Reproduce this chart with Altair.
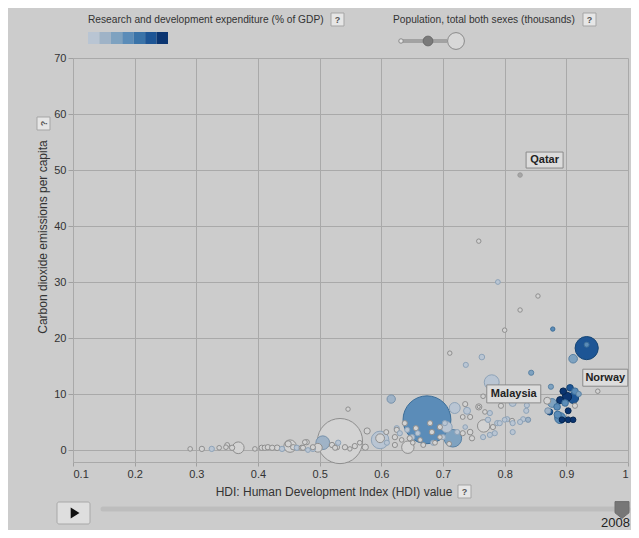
import altair as alt
import pandas as pd

FONT = "Arial"

# ---- data (HDI, CO2 per capita, population in thousands, R&D bin) ----
# rd bin: 0 = no data, 1..7 = legend colour steps, 8 = highlighted country without data
hdi = [0.825, 0.758, 0.951,
       0.758, 0.789, 0.854, 0.825, 0.800, 0.878, 0.933, 0.933, 0.911, 0.711, 0.737, 0.763,
       0.843, 0.779, 0.875, 0.616, 0.546,
       0.895, 0.906, 0.914, 0.920, 0.911, 0.901, 0.890, 0.898, 0.869, 0.877, 0.914, 0.885,
       0.873, 0.903, 0.886, 0.890, 0.893, 0.903, 0.911,
       0.813, 0.794, 0.836, 0.835, 0.830, 0.870, 0.719, 0.736, 0.739, 0.768, 0.776, 0.766,
       0.804, 0.812, 0.813, 0.788, 0.784, 0.776, 0.744, 0.736, 0.732, 0.716, 0.706, 0.695,
       0.684, 0.663, 0.651, 0.642, 0.625, 0.622, 0.609, 0.679, 0.682, 0.674, 0.533, 0.598,
       0.598, 0.505, 0.577, 0.574, 0.549, 0.625, 0.630, 0.638, 0.643, 0.622, 0.650, 0.656,
       0.633,
       0.290, 0.309, 0.325, 0.337, 0.348, 0.350, 0.358, 0.368, 0.395, 0.406, 0.411, 0.416,
       0.423, 0.431, 0.439, 0.452, 0.449, 0.457, 0.463, 0.471, 0.479, 0.489, 0.497, 0.520,
       0.528, 0.530, 0.541, 0.557, 0.565,
       0.765, 0.732, 0.773, 0.792, 0.781, 0.800, 0.813, 0.825, 0.838, 0.747, 0.723, 0.700,
       0.687, 0.695, 0.703, 0.744, 0.765, 0.710,
       0.476, 0.473, 0.481, 0.489, 0.525, 0.646, 0.659, 0.668, 0.608]
co2 = [49.1, 7.7, 10.5,
       37.3, 30.0, 27.5, 25.0, 21.4, 21.6, 18.2, 18.8, 16.3, 17.3, 15.2, 16.6,
       13.8, 12.1, 11.3, 9.1, 7.3,
       10.5, 11.1, 10.5, 10.0, 9.3, 9.5, 8.9, 8.4, 8.8, 8.4, 7.9, 7.7,
       6.8, 7.0, 6.3, 5.7, 5.4, 5.4, 5.4,
       8.4, 7.9, 8.0, 7.0, 5.5, 7.0, 7.5, 8.2, 7.0, 6.8, 6.6, 4.3,
       5.5, 5.2, 3.2, 4.8, 3.0, 2.7, 5.9, 4.1, 3.0, 2.1, 4.1, 2.3,
       1.3, 1.8, 1.3, 3.6, 3.9, 2.3, 1.3, 4.8, 3.2, 5.4, 1.6, 1.8,
       2.1, 1.3, 3.4, 0.5, 0.2, 3.6, 3.0, 4.8, 0.5, 0.9, 2.3, 3.9,
       1.8,
       0.2, 0.2, 0.2, 0.4, 0.5, 0.9, 0.4, 0.4, 0.2, 0.4, 0.4, 0.5,
       0.4, 0.4, 0.2, 0.7, 1.1, 0.5, 0.4, 0.4, 1.4, 0.2, 0.4, 0.9,
       0.5, 1.3, 0.5, 0.7, 1.3,
       9.6, 5.9, 5.4, 4.8, 4.1, 5.4, 4.8, 5.0, 5.4, 2.1, 3.2, 2.3,
       1.3, 4.1, 4.8, 3.2, 2.3, 1.1,
       1.4, 0.4, 0.0, 0.5, 0.4, 2.1, 3.0, 0.9, 3.2]
pop = [1300, 12000, 1500,
       1000, 3000, 800, 1000, 1500, 500, 304000, 4000, 33000, 1000, 5000, 8000,
       5000, 120000, 5000, 30000, 1000,
       15000, 15000, 15000, 6000, 60000, 40000, 20000, 15000, 18000, 35000, 5000, 15000,
       12000, 10000, 20000, 60000, 9000, 9000, 8000,
       18000, 5000, 5000, 5000, 5000, 12000, 60000, 5000, 18000, 2000, 5000, 80000,
       5000, 5000, 5000, 6000, 5000, 5000, 5000, 2000, 5000, 170000, 60000, 2000,
       5000, 2000, 2000, 5000, 5000, 6000, 5000, 5000, 6000, 1330000, 1180000, 170000,
       35000, 100000, 12000, 12000, 1000, 5000, 5000, 5000, 80000, 5000, 6000, 5000,
       2000,
       2000, 6000, 6000, 2000, 2000, 3000, 6000, 70000, 2000, 6000, 6000, 6000,
       6000, 8000, 6000, 80000, 12000, 6000, 6000, 6000, 6000, 6000, 35000, 6000,
       6000, 6000, 6000, 6000, 2000,
       2000, 3000, 6000, 5000, 5000, 3000, 5000, 5000, 5000, 6000, 5000, 5000,
       3000, 5000, 5000, 8000, 5000, 3000,
       3000, 5000, 3000, 5000, 5000, 5000, 5000, 4000, 4000]
rd = [8, 0, 0,
      0, 1, 0, 0, 0, 4, 6, 4, 3, 0, 1, 1,
      3, 1, 3, 2, 0,
      7, 6, 4, 3, 6, 7, 7, 4, 0, 3, 0, 4,
      6, 7, 4, 4, 7, 7, 7,
      1, 0, 1, 1, 1, 2, 1, 0, 1, 0, 1, 0,
      1, 0, 1, 1, 1, 1, 0, 1, 0, 3, 1, 0,
      1, 0, 0, 1, 1, 0, 1, 0, 0, 4, 0, 1,
      0, 2, 0, 0, 0, 0, 1, 0, 0, 0, 1, 0,
      0,
      0, 0, 1, 0, 0, 0, 0, 0, 0, 0, 0, 0,
      0, 0, 1, 0, 0, 0, 1, 0, 0, 1, 0, 0,
      0, 1, 0, 0, 0,
      0, 0, 1, 1, 0, 1, 1, 1, 2, 0, 1, 1,
      0, 0, 1, 0, 1, 0,
      0, 0, 1, 0, 0, 0, 1, 0, 0]

# labelled countries: name -> index into the arrays above
labels = {"Qatar": 0, "Malaysia": 1, "Norway": 2}

legend_colors = ["#b9c5d3", "#9fb3c7", "#7ea2c0", "#5b8cb8", "#3a73a8", "#1d5595", "#0b3571"]
FILL = ["#d3d3d3"] + legend_colors + ["#a6a6a6"]
STROKE = ["#8e8e8e", "#8ea3b8", "#7892ab", "#5a82a4", "#3d6e98", "#285a89", "#154575", "#062752", "#9a9a9a"]

x_ticks = [0.1, 0.2, 0.3, 0.4, 0.5, 0.6, 0.7, 0.8, 0.9, 1.0]
y_ticks = [0, 10, 20, 30, 40, 50, 60, 70]

df = pd.DataFrame({"hdi": hdi, "co2": co2, "pop": pop, "rd": rd})

x_scale = alt.Scale(domain=[0.1, 1.0], nice=False, zero=False)
y_scale = alt.Scale(domain=[-2.14, 70], nice=False, zero=False)
x_axis = alt.Axis(values=x_ticks, format=".1~f", title=None, tickSize=4, labelPadding=2)
y_axis = alt.Axis(values=y_ticks, title=None, tickSize=5, labelPadding=2)


def xy():
    return dict(x=alt.X("hdi:Q", scale=x_scale, axis=x_axis),
                y=alt.Y("co2:Q", scale=y_scale, axis=y_axis))


bubbles = alt.Chart(df).mark_circle(opacity=1, strokeWidth=1).encode(
    **xy(),
    size=alt.Size("pop:Q", scale=alt.Scale(domain=[0, 1330000], range=[18, 2290]), legend=None),
    fill=alt.Fill("rd:O", scale=alt.Scale(domain=list(range(9)), range=FILL), legend=None),
    stroke=alt.Stroke("rd:O", scale=alt.Scale(domain=list(range(9)), range=STROKE), legend=None),
    order=alt.Order("pop:Q", sort="descending"),
)

one = pd.DataFrame({"a": [0]})


def txt(s, x, y, size=11, align="left", weight="normal", angle=0, color="#333333"):
    kw = dict(text=s, align=align, baseline="middle", fontSize=size, fontWeight=weight,
              color=color, font=FONT)
    if angle:
        kw["angle"] = angle
    return alt.Chart(one).mark_text(**kw).encode(x=alt.value(x), y=alt.value(y))


def box(x1, y1, x2, y2, fill, stroke, radius=0):
    return alt.Chart(one).mark_rect(fill=fill, stroke=stroke, strokeWidth=1,
                                    cornerRadius=radius).encode(
        x=alt.value(x1), x2=alt.value(x2), y=alt.value(y1), y2=alt.value(y2))


def qbox(x1, y1, angle=0):
    layers = [box(x1, y1, x1 + 13, y1 + 13, "#e6e6e6", "#a5a5a5")]
    layers.append(txt("?", x1 + 6.5, y1 + 6.5, size=9, align="center", weight="bold",
                      color="#555555", angle=angle))
    return layers


def dot(x, y, size, fill, stroke, shape="circle", sw=1):
    return alt.Chart(one).mark_point(shape=shape, size=size, filled=True, fill=fill,
                                     stroke=stroke, strokeWidth=sw, opacity=1).encode(
        x=alt.value(x), y=alt.value(y))


deco = []
# colour legend
deco.append(txt("Research and development expenditure (% of GDP)", 15, -38, size=10.2))
deco += qbox(258, -45)
sw = 80 / 7
for i, c in enumerate(legend_colors):
    deco.append(alt.Chart(one).mark_rect(fill=c).encode(
        x=alt.value(15 + i * sw), x2=alt.value(15 + (i + 1) * sw),
        y=alt.value(-26), y2=alt.value(-14)))
# size legend
deco.append(txt("Population, total both sexes (thousands)", 320, -38, size=10.2))
deco += qbox(510, -45)
deco.append(alt.Chart(one).mark_rule(strokeWidth=4, color="#a2a2a2").encode(
    x=alt.value(328), x2=alt.value(374), y=alt.value(-17)))
deco.append(dot(328, -17, 20, "#e4e4e4", "#8a8a8a"))
deco.append(dot(355, -17, 95, "#7a7a7a", "#6a6a6a"))
deco.append(dot(383, -17, 283, "#d8d8d8", "#8a8a8a"))
# axis titles
deco.append(txt("Carbon dioxide emissions per capita", -30, 179, size=12, align="center",
                angle=270))
deco += qbox(-36, 59, angle=270)
deco.append(txt("HDI: Human Development Index (HDI) value", 261, 434, size=12,
                align="center"))
deco += qbox(385, 427)
# play button and time slider
deco.append(box(-16, 444, 17, 466, "#dedede", "#a8a8a8", radius=2))
deco.append(dot(1, 455, 121, "#111111", "#111111", shape="M-0.6,-1L1,0L-0.6,1Z", sw=0))
deco.append(alt.Chart(one).mark_rule(strokeWidth=5, color="#bdbdbd", strokeCap="round").encode(
    x=alt.value(30), x2=alt.value(555), y=alt.value(451)))
deco.append(dot(549, 452, 196, "#777777", "#6f6f6f", shape="M-1,-1.2H1V0.4L0,1.2L-1,0.4Z"))
deco.append(txt("2008", 557, 465, size=13, align="right", color="#222222"))

# country labels, anchored to the data points
label_specs = {"Qatar": (24.5, -15, 37, 16), "Malaysia": (35, -13, 54, 18),
               "Norway": (7.5, -13.5, 45, 17)}
lab_layers = []
for name, idx in labels.items():
    dx, dy, w, h = label_specs[name]
    ldf = pd.DataFrame({"hdi": [hdi[idx]], "co2": [co2[idx]]})
    hy = h / w
    path = f"M-1,-{hy:.3f}H1V{hy:.3f}H-1Z"
    lab_layers.append(alt.Chart(ldf).mark_point(
        shape=path, size=w * w, filled=True, fill="#dcdcdc", stroke="#8a8a8a",
        strokeWidth=1, opacity=1, xOffset=dx, yOffset=dy).encode(**xy()))
    lab_layers.append(alt.Chart(ldf).mark_text(
        text=name, dx=dx, dy=dy, fontSize=11, fontWeight="bold", font=FONT,
        color="#222222", align="center", baseline="middle").encode(**xy()))

# Malaysia inner ring
mdf = pd.DataFrame({"hdi": [hdi[1]], "co2": [co2[1]]})
ring = alt.Chart(mdf).mark_point(shape="circle", size=10, filled=False, stroke="#8a8a8a",
                                 strokeWidth=1, opacity=1).encode(**xy())

chart = alt.layer(bubbles, ring, *lab_layers, *deco).properties(
    width=555, height=404,
    padding={"left": 65, "top": 50, "right": 3, "bottom": 68},
    autosize=alt.AutoSizeParams(type="none"),
    background="#cccccc",
).configure_view(stroke=None).configure_axis(
    labelFont=FONT, labelFontSize=11, labelColor="#333333",
    gridColor="#a9a9a9", gridWidth=1, domainColor="#a9a9a9", tickColor="#a0a0a0",
)

chart.save("out.html", embed_options={"renderer": "svg", "actions": False})
